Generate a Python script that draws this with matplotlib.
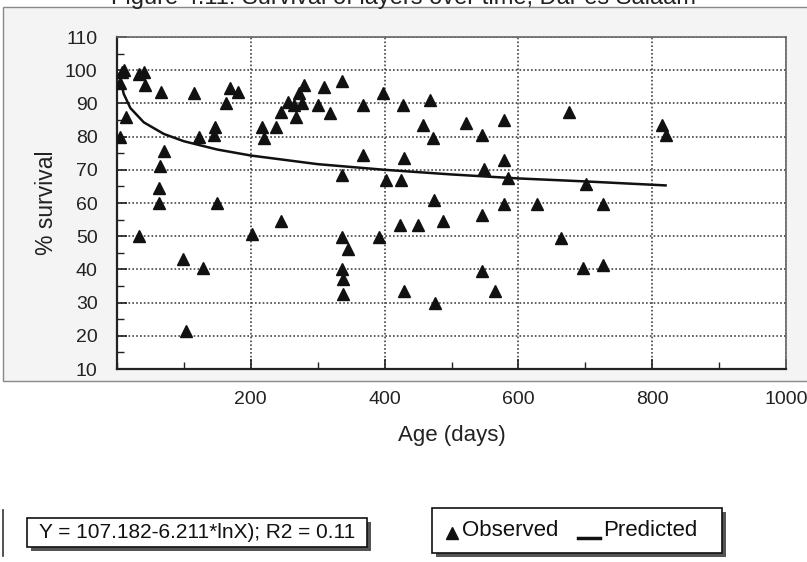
import matplotlib
matplotlib.use('Agg')
import matplotlib.pyplot as plt
import matplotlib.patches as mpatches
from matplotlib.lines import Line2D
from matplotlib.ticker import MultipleLocator

plt.rcParams['font.family'] = ['Liberation Sans', 'DejaVu Sans']

# observed survival (age in days, % survival)
age_obs = [4, 7, 11, 4, 13, 33, 41, 42, 33, 66, 70, 65, 63, 63, 115, 99, 129, 103,
           123, 146, 145, 150, 163, 169, 181, 202, 217, 220, 238, 245, 245, 255,
           267, 272, 279, 277, 265, 300, 309, 319, 337, 367, 367, 336, 397, 402,
           424, 428, 429, 468, 457, 472, 474, 423, 450, 487, 336, 346, 336, 338,
           338, 392, 429, 475, 522, 545, 578, 676, 578, 548, 585, 701, 578, 628,
           726, 545, 664, 545, 565, 696, 727, 814, 820]
surv_obs = [96, 99.5, 100, 80, 86, 99, 99.5, 95.5, 50, 93.5, 75.7, 71, 64.5, 60,
            93, 43, 40.5, 21.5, 80, 83, 80.5, 60, 90, 94.5, 93.5, 50.7, 83, 79.5,
            83, 54.5, 87.5, 90.5, 86, 93, 95.5, 90, 89.5, 89.5, 95, 87.2, 96.8,
            89.5, 74.5, 68.4, 93.2, 67, 67, 89.5, 73.6, 91, 83.5, 79.5, 61, 53.4,
            53.4, 54.7, 49.7, 46, 40, 37, 32.6, 49.7, 33.6, 29.8, 84.2, 80.5, 85,
            87.5, 73, 70.2, 67.4, 65.7, 59.7, 59.7, 59.7, 56.4, 49.4, 39.6, 33.6,
            40.3, 41.3, 83.5, 80.5]

# predicted curve, points
age_pred = [4, 5, 10, 20, 40, 70, 100, 150, 200, 300, 400, 500, 600, 700, 820]
surv_pred = [99, 97.2, 92.9, 88.6, 84.3, 80.8, 78.6, 76.1, 74.3, 71.7, 70.0,
             68.6, 67.4, 66.5, 65.3]

x_ticks = [200, 400, 600, 800, 1000]
y_ticks = list(range(10, 111, 10))

W, H = 807, 562
fig = plt.figure(figsize=(W / 100, H / 100), dpi=100)
fig.patch.set_facecolor('white')

def fx(px): return px / W
def fy(py): return 1 - py / H

# chart frame
fig.add_artist(mpatches.Rectangle((fx(3), fy(381)), fx(830), 374 / H,
                                  transform=fig.transFigure, facecolor='#f4f4f4',
                                  edgecolor='#888', lw=1.0, zorder=0))

# caption at the very top, cut by the scan in the reference
fig.text(0.5, fy(4), 'Figure 4.11: Survival of layers over time, Dar es Salaam',
         ha='center', va='baseline', fontsize=17, color='#222')

ax = fig.add_axes([fx(117), fy(369), fx(786) - fx(117), (369 - 37) / H])
ax.set_facecolor('white')
ax.set_xlim(0, 1000)
ax.set_ylim(10, 110)

ax.plot(age_pred, surv_pred, color='#111', lw=1.8, zorder=3)
ax.plot(age_obs, surv_obs, linestyle='none', marker='^', markersize=9,
        color='#111', zorder=4)

ax.set_xticks(x_ticks)
ax.set_yticks(y_ticks)
ax.xaxis.set_minor_locator(MultipleLocator(100))
ax.yaxis.set_minor_locator(MultipleLocator(5))
ax.tick_params(which='both', direction='in', labelsize=14, colors='#222')
ax.tick_params(which='major', length=7, width=1.2)
ax.tick_params(which='minor', length=5, width=1.0)
ax.tick_params(axis='x', pad=16)
ax.tick_params(axis='y', pad=14)
ax.grid(True, which='major', linestyle=(0, (1, 1.3)), color='#444', lw=1.2)

for side in ['left', 'bottom']:
    ax.spines[side].set_linewidth(1.6)
    ax.spines[side].set_color('#222')
for side in ['top', 'right']:
    ax.spines[side].set_linewidth(1.2)
    ax.spines[side].set_color('#666')

ax.set_ylabel('% survival', fontsize=16.5, color='#222', labelpad=5)
ax.set_xlabel('Age (days)', fontsize=16, color='#222', labelpad=12)

# equation box with shadow
fig.add_artist(mpatches.Rectangle((fx(31), fy(551)), fx(340), 29 / H,
                                  transform=fig.transFigure, facecolor='#555',
                                  edgecolor='none'))
fig.add_artist(mpatches.Rectangle((fx(27), fy(547)), fx(340), 29 / H,
                                  transform=fig.transFigure, facecolor='white',
                                  edgecolor='#111', lw=1.2))
fig.text(fx(197), fy(532), 'Y = 107.182-6.211*lnX); R2 = 0.11',
         ha='center', va='center', fontsize=15, color='#111')

# left edge line beside the boxes
fig.add_artist(Line2D([fx(3), fx(3)], [fy(510), fy(556)],
                      transform=fig.transFigure, color='#333', lw=1.2))

# legend box with shadow
fig.add_artist(mpatches.Rectangle((fx(436), fy(557)), fx(290), 45 / H,
                                  transform=fig.transFigure, facecolor='#555',
                                  edgecolor='none'))
fig.add_artist(mpatches.Rectangle((fx(432), fy(553)), fx(290), 45 / H,
                                  transform=fig.transFigure, facecolor='white',
                                  edgecolor='#111', lw=1.2))
fig.add_artist(Line2D([fx(452)], [fy(533)], transform=fig.transFigure,
                      marker='^', markersize=9, color='#111', linestyle='none'))
fig.text(fx(462), fy(530), 'Observed', ha='left', va='center',
         fontsize=16, color='#111')
fig.add_artist(Line2D([fx(578), fx(600)], [fy(538), fy(538)],
                      transform=fig.transFigure, color='#111', lw=2.5))
fig.text(fx(603), fy(530), 'Predicted', ha='left', va='center',
         fontsize=16, color='#111')

fig.savefig('out.png', dpi=100, facecolor='white')
